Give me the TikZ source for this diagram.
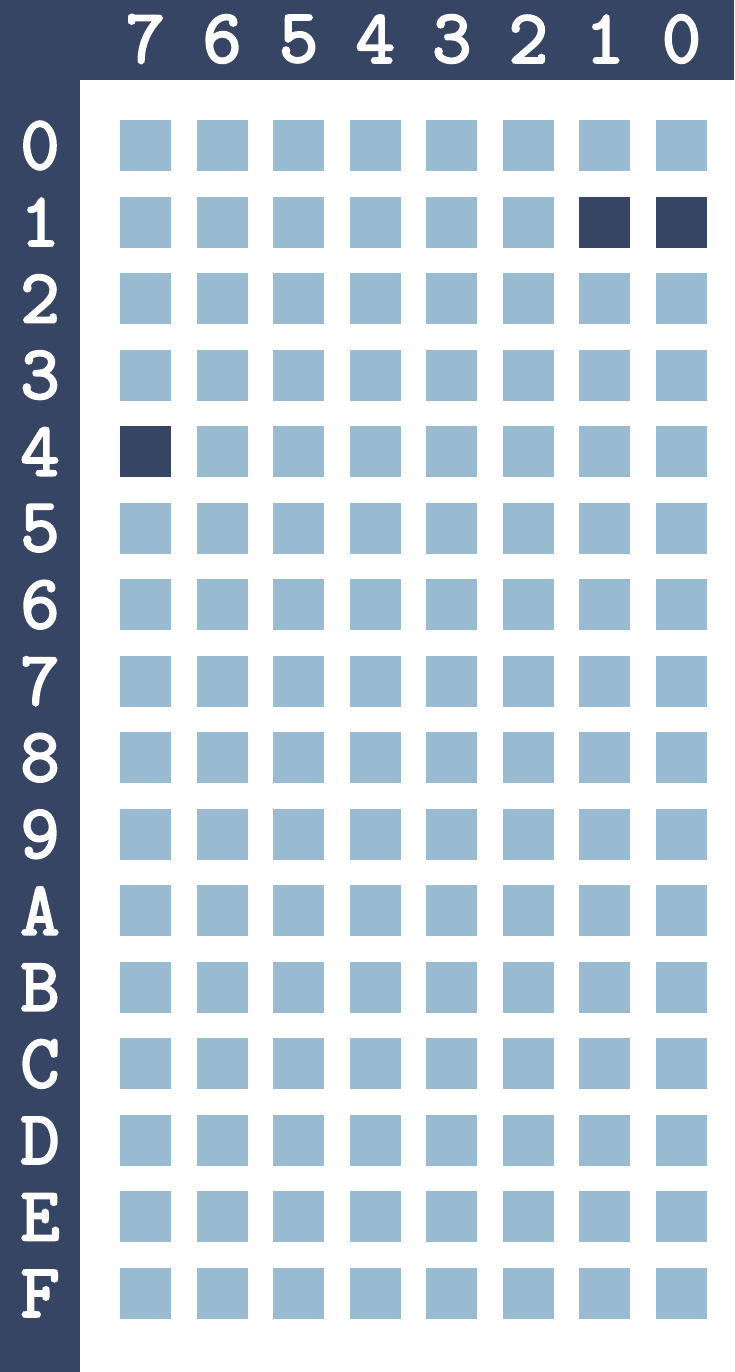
\documentclass[tikz,border=0pt]{standalone}
\usepackage{fontspec}
\newfontfamily\lblfont[FakeBold=3]{Latin Modern Mono}
\definecolor{navy}{HTML}{374565}
\definecolor{cell}{HTML}{99BBD2}
\begin{document}
\begin{tikzpicture}[x=1pt,y=-1pt,
  cellbox/.style={fill=cell,draw=none,minimum size=51pt,inner sep=0pt,rectangle},
  onbox/.style={cellbox,fill=navy},
  lbl/.style={text=white,font=\lblfont\fontsize{76}{76}\selectfont,inner sep=0pt}]
\useasboundingbox (0,0) rectangle (734,1372);
\fill[white] (0,0) rectangle (734,1372);
\fill[navy] (0,0) rectangle (734,80);
\fill[navy] (0,0) rectangle (80,1372);
\foreach \c [count=\i from 0] in {7,6,5,4,3,2,1,0}{
  \node[lbl] (col\c) at (145.5+76.57*\i,39) {\c};
}
\foreach \r [count=\j from 0] in {0,1,2,3,4,5,6,7,8,9,A,B,C,D,E,F}{
  \node[lbl] (row\r) at (40,145.5+76.53*\j) {\r};
  \foreach \c [count=\i from 0] in {7,6,5,4,3,2,1,0}{
    \node[cellbox] (b\r\c) at (145.5+76.57*\i,145.5+76.53*\j) {};
  }
}
\node[onbox] (on11) at (145.5+76.57*6,145.5+76.53) {};
\node[onbox] (on10) at (145.5+76.57*7,145.5+76.53) {};
\node[onbox] (on47) at (145.5,145.5+76.53*4) {};
\end{tikzpicture}
\end{document}
